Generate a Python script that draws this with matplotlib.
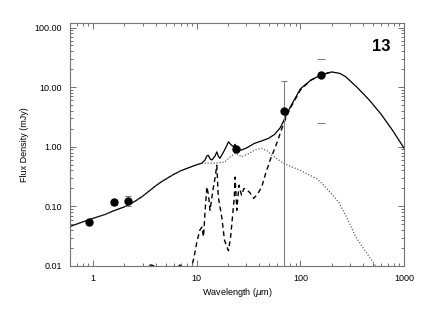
import numpy as np
import matplotlib
matplotlib.use('Agg')
import matplotlib.pyplot as plt
from matplotlib.ticker import FixedLocator, LogLocator, NullFormatter

plt.rcParams['font.family'] = ['Liberation Sans', 'DejaVu Sans']

# Observed photometry
obs_wl = [0.91, 1.6, 2.18, 23.8, 69.0, 157.0]
obs_flux = [0.054, 0.117, 0.125, 0.915, 4.0, 15.8]
obs_err_lo = [0.005, 0.012, 0.022, 0.05, 3.999, 13.3]
obs_err_hi = [0.005, 0.012, 0.022, 0.05, 8.7, 13.6]

# Total model (solid)
tot_wl = [0.6, 0.8, 1.0, 1.3, 1.6, 2.0, 2.5, 3.0, 3.5, 4.0, 4.5, 5.0, 6.0, 7.0,
          8.5, 10.0, 11.2, 12.0, 12.5, 12.9, 13.5, 14.0, 15.0, 15.6, 16.1, 16.7,
          18.0, 19.2, 20.2, 21.2, 22.5, 23.4, 24.3, 25.5, 27.0, 30.0, 36.0,
          42.0, 49.0, 56.0, 64.0, 70.0, 80.0, 100.0, 125.0, 157.0, 200.0,
          240.0, 272.0, 350.0, 460.0, 600.0, 770.0, 1000.0]
tot_flux = [0.046, 0.055, 0.063, 0.073, 0.085, 0.098, 0.12, 0.148, 0.183,
            0.22, 0.255, 0.285, 0.345, 0.395, 0.45, 0.5, 0.53, 0.6, 0.7, 0.72,
            0.62, 0.6, 0.7, 0.82, 0.7, 0.64, 0.8, 1.0, 1.21, 1.1, 1.0, 1.1,
            0.95, 0.9, 0.88, 0.95, 1.14, 1.25, 1.38, 1.6, 2.1, 2.9, 4.7, 9.4,
            13.0, 16.0, 18.0, 17.0, 15.0, 10.0, 6.1, 3.5, 1.9, 0.94]

# Stellar / warm component (dotted)
star_wl = [0.6, 0.8, 1.0, 1.3, 1.6, 2.0, 2.5, 3.0, 3.5, 4.0, 4.5, 5.0, 6.0, 7.0,
           8.5, 10.0, 11.2, 14.0, 18.5, 21.5, 23.5, 27.0, 31.0, 36.0, 42.0,
           48.0, 53.0, 68.0, 100.0, 144.0, 162.0, 200.0, 234.0, 280.0, 340.0,
           420.0, 530.0, 600.0]
star_flux = [0.046, 0.055, 0.063, 0.073, 0.085, 0.098, 0.12, 0.148, 0.183,
             0.22, 0.255, 0.285, 0.345, 0.395, 0.45, 0.5, 0.53, 0.53, 0.55,
             0.7, 0.78, 0.68, 0.75, 0.88, 0.94, 0.85, 0.72, 0.53, 0.4, 0.29,
             0.24, 0.16, 0.117, 0.065, 0.031, 0.018, 0.01, 0.007]

# Dust / PAH component (dashed)
dust_wl = [3.0, 3.3, 3.6, 4.0, 4.5, 5.0, 5.5, 6.3, 6.7, 6.9, 7.1, 8.0, 8.9, 9.4,
           10.0, 10.7, 11.2, 11.6, 12.0, 12.5, 13.0, 13.4, 14.4, 15.0, 15.6,
           16.1, 17.4, 18.5, 20.2, 21.2, 22.3, 23.0, 23.4, 24.3, 25.5, 27.0,
           28.5, 30.4, 32.5, 35.3, 38.5, 42.3, 46.0, 51.0, 59.0, 69.0, 80.0,
           100.0, 125.0, 157.0, 200.0]
dust_flux = [0.0085, 0.0098, 0.0104, 0.0099, 0.0095, 0.0088, 0.007, 0.006,
             0.0095, 0.0112, 0.008, 0.005, 0.0095, 0.014, 0.025, 0.04, 0.045,
             0.031, 0.08, 0.213, 0.15, 0.086, 0.2, 0.3, 0.49, 0.145, 0.066,
             0.027, 0.018, 0.031, 0.08, 0.145, 0.31, 0.086, 0.227, 0.154, 0.2,
             0.187, 0.17, 0.136, 0.16, 0.213, 0.35, 0.6, 1.14, 2.5, 4.5, 9.0,
             13.0, 16.0, 18.0]

fig = plt.figure(figsize=(4.25, 3.14), dpi=100)
ax = fig.add_axes([0.165, 0.153, 0.786, 0.775])

ax.plot(tot_wl, tot_flux, color='black', lw=0.9)
ax.plot(star_wl, star_flux, color='0.25', lw=0.9, ls=(0, (0.8, 1.6)))
ax.plot(dust_wl, dust_flux, color='black', lw=1.0, ls=(0, (3.5, 2.5)))

eb = ax.errorbar(obs_wl[:5], obs_flux[:5],
                 yerr=[obs_err_lo[:5], obs_err_hi[:5]],
                 fmt='o', color='black', ms=5, ecolor='0.5', elinewidth=0.8,
                 capsize=2.5, capthick=0.8)
eb2 = ax.errorbar(obs_wl[5:], obs_flux[5:],
                  yerr=[obs_err_lo[5:], obs_err_hi[5:]],
                  fmt='o', color='black', ms=5, ecolor='0.5', elinewidth=0.8,
                  capsize=3, capthick=0.8)
for c in eb2[2]:
    c.set_visible(False)

ax.set_xscale('log')
ax.set_yscale('log')
ax.set_xlim(0.6, 1000)
ax.set_ylim(0.01, 121)

ax.xaxis.set_major_locator(FixedLocator([1, 10, 100, 1000]))
ax.set_xticklabels(['1', '10', '100', '1000'])
ax.xaxis.set_minor_locator(LogLocator(base=10, subs=np.arange(2, 10)))
ax.xaxis.set_minor_formatter(NullFormatter())
ax.yaxis.set_major_locator(FixedLocator([0.01, 0.1, 1, 10, 100]))
ax.set_yticklabels(['0.01', '0.10', '1.00', '10.00', '100.00'])
ax.yaxis.set_minor_locator(LogLocator(base=10, subs=np.arange(2, 10)))
ax.yaxis.set_minor_formatter(NullFormatter())

ax.tick_params(which='both', direction='in', top=True, right=True,
               labelsize=6.5, color='0.35', width=0.6, pad=6)
ax.tick_params(which='major', length=4)
ax.tick_params(which='minor', length=2)
for s in ax.spines.values():
    s.set_color('0.45')
    s.set_linewidth(0.8)

ax.set_xlabel('Wavelength ($\\mu$m)', fontsize=6.5, labelpad=2)
ax.set_ylabel('Flux Density (mJy)', fontsize=6.5, labelpad=4)
ax.text(0.96, 0.9, '13', transform=ax.transAxes, ha='right', va='center',
        fontsize=12, fontweight='bold')

fig.savefig('out.png', dpi=100)
